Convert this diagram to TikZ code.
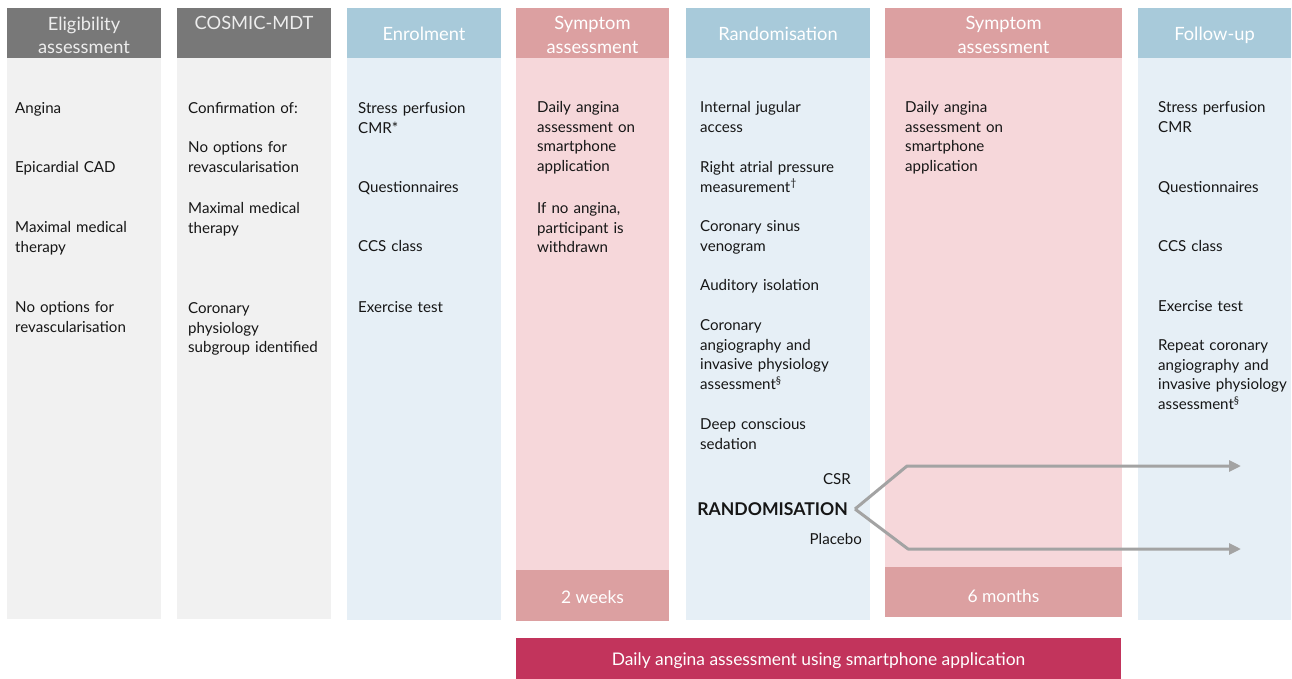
\documentclass[tikz,border=0pt]{standalone}
\usepackage{fontspec}
\setmainfont{Lato}
\usetikzlibrary{arrows.meta}

\definecolor{ink}{HTML}{161616}
\definecolor{greyhead}{HTML}{787878}
\definecolor{greybody}{HTML}{F1F1F1}
\definecolor{bluehead}{HTML}{A8CADA}
\definecolor{bluebody}{HTML}{E6EFF6}
\definecolor{pinkhead}{HTML}{DCA0A1}
\definecolor{pinkbody}{HTML}{F6D7DA}
\definecolor{barred}{HTML}{C2345C}
\definecolor{arrowgrey}{HTML}{A3A3A3}

\begin{document}
\begin{tikzpicture}[x=1pt,y=-1pt,
  item/.style={anchor=base west, inner sep=0pt, text width=160pt, align=left,
    text=ink, font=\fontsize{15.1}{19.7}\selectfont},
  headtext/.style={anchor=base, inner sep=0pt, text width=150pt, align=center,
    text=white, font=\fontsize{18.3}{23.5}\selectfont},
  spantext/.style={anchor=center, inner sep=0pt, text=white,
    font=\fontsize{17.4}{20}\selectfont},
  armlabel/.style={anchor=base east, inner sep=0pt, text=ink,
    font=\fontsize{15.1}{19.7}\selectfont},
  arm/.style={draw=arrowgrey, line width=3pt, line join=round,
    -{Triangle[length=12pt,width=11pt]}}
]
\useasboundingbox (0,0) rectangle (1292,679);
\fill[white] (0,0) rectangle (1292,679);

% column bodies and headers
\fill[greybody] (7,8) rectangle (161,619);
\fill[greyhead] (7,8) rectangle (161,58);
\fill[greybody] (177,8) rectangle (331,619);
\fill[greyhead] (177,8) rectangle (331,58);
\fill[bluebody] (347,8) rectangle (501,620);
\fill[bluehead] (347,8) rectangle (501,58);
\fill[pinkbody] (516,8) rectangle (669,570);
\fill[pinkhead] (516,8) rectangle (669,58);
\fill[pinkhead] (516,570) rectangle (669,621);
\fill[bluebody] (686,8) rectangle (870,620);
\fill[bluehead] (686,8) rectangle (870,58);
\fill[pinkbody] (885,8) rectangle (1122,567);
\fill[pinkhead] (885,8) rectangle (1122,58);
\fill[pinkhead] (885,567) rectangle (1122,617);
\fill[bluebody] (1138,8) rectangle (1291,620);
\fill[bluehead] (1138,8) rectangle (1291,58);
\fill[barred] (516,638) rectangle (1121,679);

% header titles
\node[headtext, text=white!93!black] (h1) at (84,30.5) {Eligibility\\assessment};
\node[headtext, text=white!93!black] (h2) at (254,30) {COSMIC-MDT};
\node[headtext] (h3) at (424,41) {Enrolment};
\node[headtext] (h4) at (592.5,30) {Symptom\\assessment};
\node[headtext] (h5) at (778,41) {Randomisation};
\node[headtext] (h6) at (1003.5,30) {Symptom\\assessment};
\node[headtext] (h7) at (1214.5,41) {Follow-up};

% eligibility assessment
\node[item] (e1) at (15,113.5) {Angina};
\node[item] (e2) at (15,172.5) {Epicardial CAD};
\node[item] (e3) at (15,232.5) {Maximal medical\\therapy};
\node[item] (e4) at (15,312.5) {No options for\\revascularisation};

% COSMIC-MDT
\node[item] (m1) at (188,113.5) {Confirmation of:};
\node[item] (m2) at (188,152.5) {No options for\\revascularisation};
\node[item] (m3) at (188,213.5) {Maximal medical\\therapy};
\node[item] (m4) at (188,313.5) {Coronary\\physiology\\subgroup identified};

% enrolment
\node[item] (n1) at (358,113.5) {Stress perfusion\\CMR*};
\node[item] (n2) at (358,192.5) {Questionnaires};
\node[item] (n3) at (358,251.5) {CCS class};
\node[item] (n4) at (358,312.5) {Exercise test};

% first symptom assessment
\node[item] (s1) at (537,112.5) {Daily angina\\assessment on\\smartphone\\application};
\node[item] (s2) at (537,213.5) {If no angina,\\participant is\\withdrawn};
\node[spantext] (w2) at (592.5,597) {2 weeks};

% randomisation procedure
\node[item] (r1) at (700,112.5) {Internal jugular\\access};
\node[item] (r2) at (700,172.5) {Right atrial pressure\\measurement\textsuperscript{\dag}};
\node[item] (r3) at (700,231.5) {Coronary sinus\\venogram};
\node[item] (r4) at (700,290.5) {Auditory isolation};
\node[item] (r5) at (700,330.5) {Coronary\\angiography and\\invasive physiology\\assessment\textsuperscript{\S}};
\node[item] (r6) at (700,429.5) {Deep conscious\\sedation};

% second symptom assessment
\node[item] (t1) at (905,112.5) {Daily angina\\assessment on\\smartphone\\application};
\node[spantext] (m6) at (1003.5,596) {6 months};

% follow-up
\node[item] (f1) at (1158,112.5) {Stress perfusion\\CMR};
\node[item] (f2) at (1158,192.5) {Questionnaires};
\node[item] (f3) at (1158,251.5) {CCS class};
\node[item] (f4) at (1158,311.5) {Exercise test};
\node[item] (f5) at (1158,350.5) {Repeat coronary\\angiography and\\invasive physiology\\assessment\textsuperscript{\S}};

% daily assessment bar
\node[spantext] (bar) at (818.5,661) {Daily angina assessment using smartphone application};

% randomisation split
\node[armlabel] (csr) at (851,484) {CSR};
\node[armlabel, font=\fontsize{17.6}{20}\selectfont\bfseries] (rand) at (848,515.5) {RANDOMISATION};
\node[armlabel] (plc) at (862,544) {Placebo};
\coordinate (apex) at (855,509);
\coordinate (csrbend) at (907,466);
\coordinate (csrend) at (1241,466);
\coordinate (plcbend) at (908,549);
\coordinate (plcend) at (1241,549);
\draw[arm] (apex) -- (csrbend) -- (csrend);
\draw[arm] (apex) -- (plcbend) -- (plcend);
\end{tikzpicture}
\end{document}
